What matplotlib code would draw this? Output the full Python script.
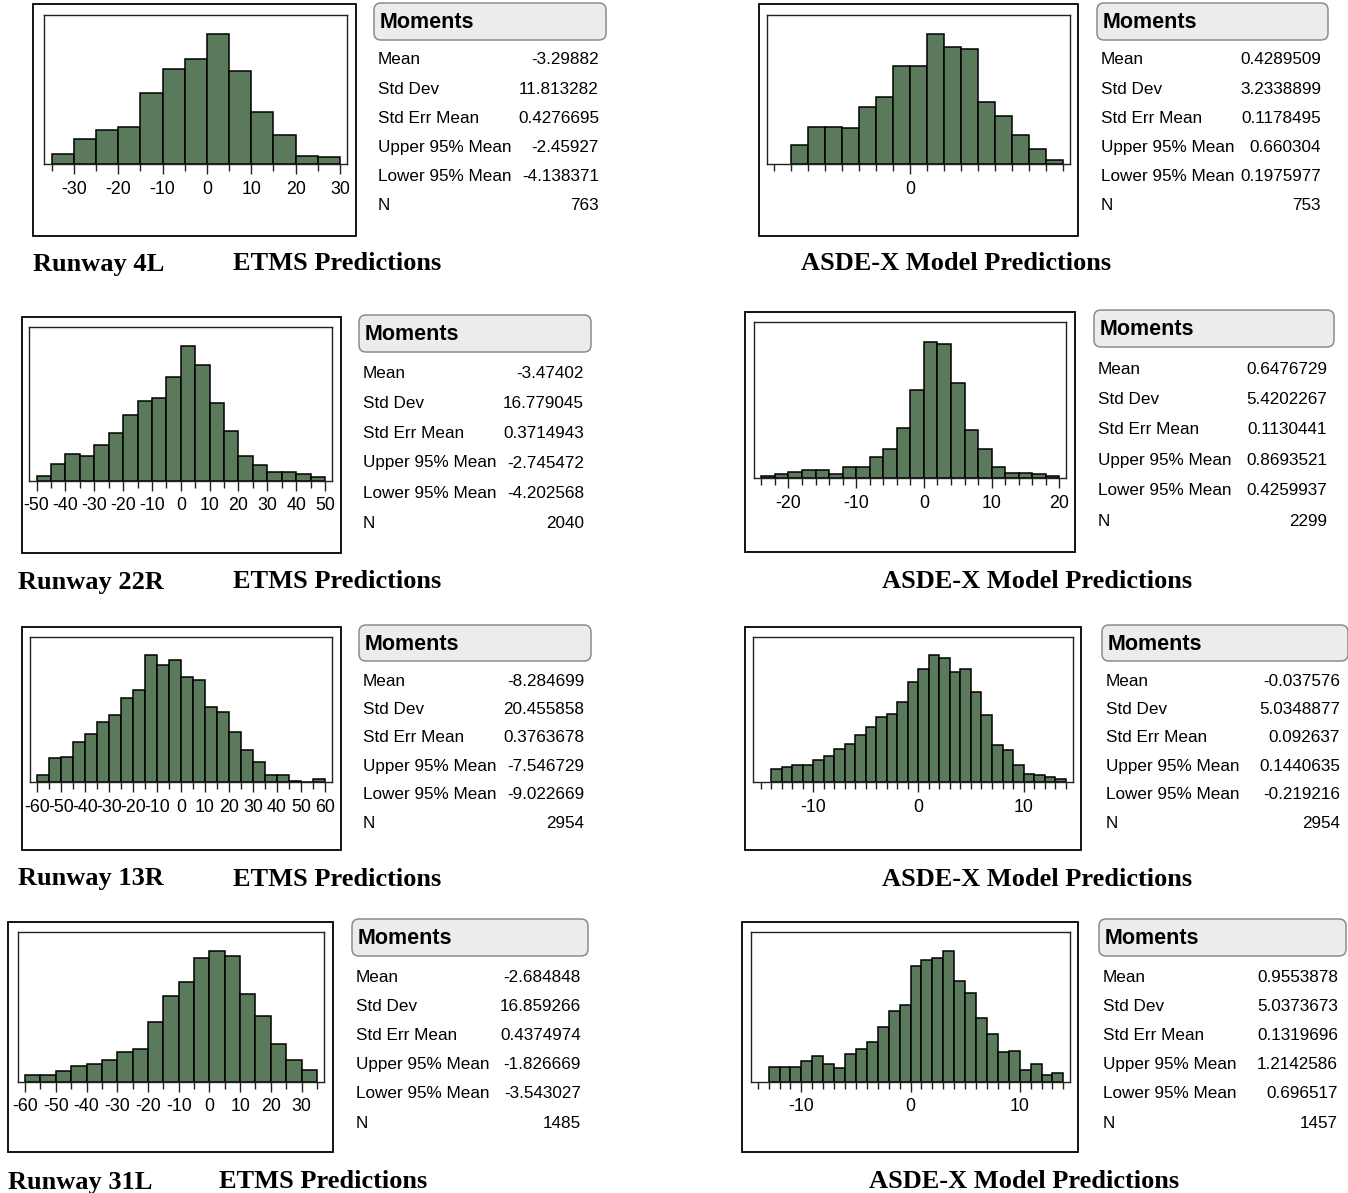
import matplotlib
matplotlib.use("Agg")
import matplotlib.pyplot as plt
from matplotlib.patches import Rectangle, FancyBboxPatch
import numpy as np

W, H = 1348, 1193
BAR = "#5b7a5c"
SANS = ["Liberation Sans", "DejaVu Sans"]
SERIF = ["Liberation Serif", "DejaVu Serif"]

# ---------------- data ----------------
stat_names = ["Mean", "Std Dev", "Std Err Mean", "Upper 95% Mean", "Lower 95% Mean", "N"]

etms_4l_bin_lo, etms_4l_bin_w = -35, 5
etms_4l_counts = [11, 28, 37, 41, 78, 104, 115, 142, 101, 57, 32, 9, 8]
etms_4l_stats = ["-3.29882", "11.813282", "0.4276695", "-2.45927", "-4.138371", "763"]

asde_4l_bin_lo, asde_4l_bin_w = -7, 1
asde_4l_counts = [15, 29, 29, 28, 44, 52, 76, 76, 101, 91, 89, 48, 37, 23, 12, 3]
asde_4l_stats = ["0.4289509", "3.2338899", "0.1178495", "0.660304", "0.1975977", "753"]

etms_22r_bin_lo, etms_22r_bin_w = -50, 5
etms_22r_counts = [10, 36, 59, 54, 77, 104, 143, 173, 180, 227, 293, 253, 170, 108, 55, 35, 20, 20, 14, 9]
etms_22r_stats = ["-3.47402", "16.779045", "0.3714943", "-2.745472", "-4.202568", "2040"]

asde_22r_bin_lo, asde_22r_bin_w = -24, 2
asde_22r_counts = [7, 13, 19, 26, 26, 13, 35, 35, 70, 93, 162, 283, 439, 432, 305, 156, 93, 35, 18, 18, 13, 7]
asde_22r_stats = ["0.6476729", "5.4202267", "0.1130441", "0.8693521", "0.4259937", "2299"]

etms_13r_bin_lo, etms_13r_bin_w = -60, 5
etms_13r_counts = [16, 54, 58, 92, 111, 138, 153, 192, 211, 292, 268, 280, 242, 234, 173, 161, 115, 73, 46, 16, 16, 3, 1, 8]
etms_13r_stats = ["-8.284699", "20.455858", "0.3763678", "-7.546729", "-9.022669", "2954"]

asde_13r_bin_lo, asde_13r_bin_w = -14, 1
asde_13r_counts = [27, 31, 34, 34, 44, 52, 68, 78, 95, 112, 133, 139, 163, 204, 231, 259, 252, 224, 231, 184, 136, 75, 65, 34, 17, 14, 10, 7]
asde_13r_stats = ["-0.037576", "5.0348877", "0.092637", "0.1440635", "-0.219216", "2954"]

etms_31l_bin_lo, etms_31l_bin_w = -60, 5
etms_31l_counts = [10, 10, 16, 23, 26, 33, 44, 49, 90, 129, 149, 185, 196, 188, 131, 98, 57, 33, 18]
etms_31l_stats = ["-2.684848", "16.859266", "0.4374974", "-1.826669", "-3.543027", "1485"]

asde_31l_bin_lo, asde_31l_bin_w = -13, 1
asde_31l_counts = [16, 16, 16, 23, 28, 19, 15, 30, 36, 44, 60, 78, 85, 127, 134, 136, 144, 111, 98, 70, 53, 33, 34, 13, 19, 7, 10]
asde_31l_stats = ["0.9553878", "5.0373673", "0.1319696", "1.2142586", "0.696517", "1457"]

runway_labels = ["Runway 4L", "Runway 22R", "Runway 13R", "Runway 31L"]
etms_title = "ETMS Predictions"
asde_title = "ASDE-X Model Predictions"

# ---------------- figure ----------------
fig = plt.figure(figsize=(W / 100, H / 100), dpi=100)
bg = fig.add_axes([0, 0, 1, 1])
bg.set_xlim(0, W)
bg.set_ylim(H, 0)
bg.axis("off")
bg.set_zorder(0)


def px_axes(x0, y0, x1, y1):
    ax = fig.add_axes([x0 / W, 1 - y1 / H, (x1 - x0) / W, (y1 - y0) / H])
    ax.set_zorder(2)
    return ax


def histogram(box, frame, bin_lo, bin_w, counts, xlim, major, minor, labels):
    bx0, by0, bx1, by1 = box
    bg.add_patch(Rectangle((bx0, by0), bx1 - bx0, by1 - by0, fill=False,
                           edgecolor="black", linewidth=1.3))
    ax = px_axes(*frame)
    lefts = bin_lo + bin_w * np.arange(len(counts))
    ax.bar(lefts, counts, width=bin_w, align="edge", color=BAR,
           edgecolor="black", linewidth=1.1)
    ax.set_xlim(*xlim)
    ax.set_ylim(0, max(counts) * 1.143)
    ax.set_yticks([])
    for s in ax.spines.values():
        s.set_color("#222222")
        s.set_linewidth(1.0)
    ax.set_xticks(major)
    ax.set_xticklabels(labels, fontfamily=SANS, fontsize=12.8)
    ax.set_xticks(minor, minor=True)
    ax.tick_params(axis="x", which="major", length=7, width=1.0, pad=5, color="#222222")
    ax.tick_params(axis="x", which="minor", length=5, width=1.0, color="#222222")
    return ax


def moments(hx0, hx1, hy0, hy1, rows_y, val_right, stats):
    bg.add_patch(FancyBboxPatch((hx0, hy0), hx1 - hx0, hy1 - hy0,
                                boxstyle="round,pad=0,rounding_size=7",
                                facecolor="#ececec", edgecolor="#8c8c8c", linewidth=1.1))
    bg.text(hx0 + 6, (hy0 + hy1) / 2 + 1, "Moments", fontfamily=SANS, fontsize=15.5,
            fontweight="bold", va="center", ha="left")
    for name, val, y in zip(stat_names, stats, rows_y):
        bg.text(hx0 + 4, y + 1, name, fontfamily=SANS, fontsize=12.3, va="center", ha="left")
        bg.text(val_right, y + 1, val, fontfamily=SANS, fontsize=12.3, va="center", ha="right")


def rows(y0, y1):
    return list(np.linspace(y0, y1, 6))


# Row 1 : Runway 4L
histogram((33, 4, 356, 236), (44.3, 15, 346.7, 164.3), etms_4l_bin_lo, etms_4l_bin_w,
          etms_4l_counts, (-36.65, 31.5), [-30, -20, -10, 0, 10, 20, 30],
          list(range(-35, 31, 5)), ["-30", "-20", "-10", "0", "10", "20", "30"])
moments(374, 606, 3, 40, rows(59, 205), 599, etms_4l_stats)
histogram((759, 4, 1078, 236), (767.3, 15, 1070, 164.3), asde_4l_bin_lo, asde_4l_bin_w,
          asde_4l_counts, (-8.41, 9.43), [0], list(range(-8, 10)), ["0"])
moments(1097, 1328, 3, 40, rows(59, 205), 1321, asde_4l_stats)

# Row 2 : Runway 22R
histogram((22, 317, 341, 553), (29.3, 327.3, 331.7, 480.7), etms_22r_bin_lo, etms_22r_bin_w,
          etms_22r_counts, (-52.5, 52.3), list(range(-50, 51, 10)),
          list(range(-50, 51, 5)), [str(v) for v in range(-50, 51, 10)])
moments(359, 591, 315, 352, rows(372, 522), 584, etms_22r_stats)
histogram((745, 312, 1075, 552), (754, 322.3, 1066, 478.3), asde_22r_bin_lo, asde_22r_bin_w,
          asde_22r_counts, (-25.08, 20.98), [-20, -10, 0, 10, 20],
          list(range(-24, 21, 2)), ["-20", "-10", "0", "10", "20"])
moments(1094, 1334, 310, 347, rows(368, 520), 1327, asde_22r_stats)

# Row 3 : Runway 13R
histogram((22, 627, 341, 850), (30, 636.7, 331.7, 782), etms_13r_bin_lo, etms_13r_bin_w,
          etms_13r_counts, (-62.9, 62.8), list(range(-60, 61, 10)),
          list(range(-60, 61, 5)), [str(v) for v in range(-60, 61, 10)])
moments(359, 591, 625, 661, rows(680, 822), 584, etms_13r_stats)
histogram((745, 627, 1081, 850), (753.3, 636.7, 1073.3, 782), asde_13r_bin_lo, asde_13r_bin_w,
          asde_13r_counts, (-15.7, 14.73), [-10, 0, 10],
          list(range(-15, 15)), ["-10", "0", "10"])
moments(1102, 1348, 625, 661, rows(680, 822), 1340, asde_13r_stats)

# Row 4 : Runway 31L
histogram((8, 922, 333, 1152), (17.7, 932.3, 324.3, 1081.7), etms_31l_bin_lo, etms_31l_bin_w,
          etms_31l_counts, (-62.4, 37.4), list(range(-60, 31, 10)),
          list(range(-60, 36, 5)), [str(v) for v in range(-60, 31, 10)])
moments(352, 588, 919, 956, rows(976, 1122), 581, etms_31l_stats)
histogram((742, 922, 1078, 1152), (750.7, 932.3, 1070, 1081.7), asde_31l_bin_lo, asde_31l_bin_w,
          asde_31l_counts, (-14.64, 14.61), [-10, 0, 10],
          list(range(-14, 15)), ["-10", "0", "10"])
moments(1099, 1346, 919, 956, rows(976, 1122), 1338, asde_31l_stats)

# Captions
cap_rows = [(33, 233, 801, 264), (18, 233, 882, 582), (18, 233, 882, 879), (8, 219, 869, 1182)]
for lab, (xr, xe, xa, y) in zip(runway_labels, cap_rows):
    bg.text(xr, y, lab, fontfamily=SERIF, fontsize=19, fontweight="bold", va="center", ha="left")
    bg.text(xe, y, etms_title, fontfamily=SERIF, fontsize=19, fontweight="bold", va="center", ha="left")
    bg.text(xa, y, asde_title, fontfamily=SERIF, fontsize=19, fontweight="bold", va="center", ha="left")

fig.savefig("out.png", dpi=100)
